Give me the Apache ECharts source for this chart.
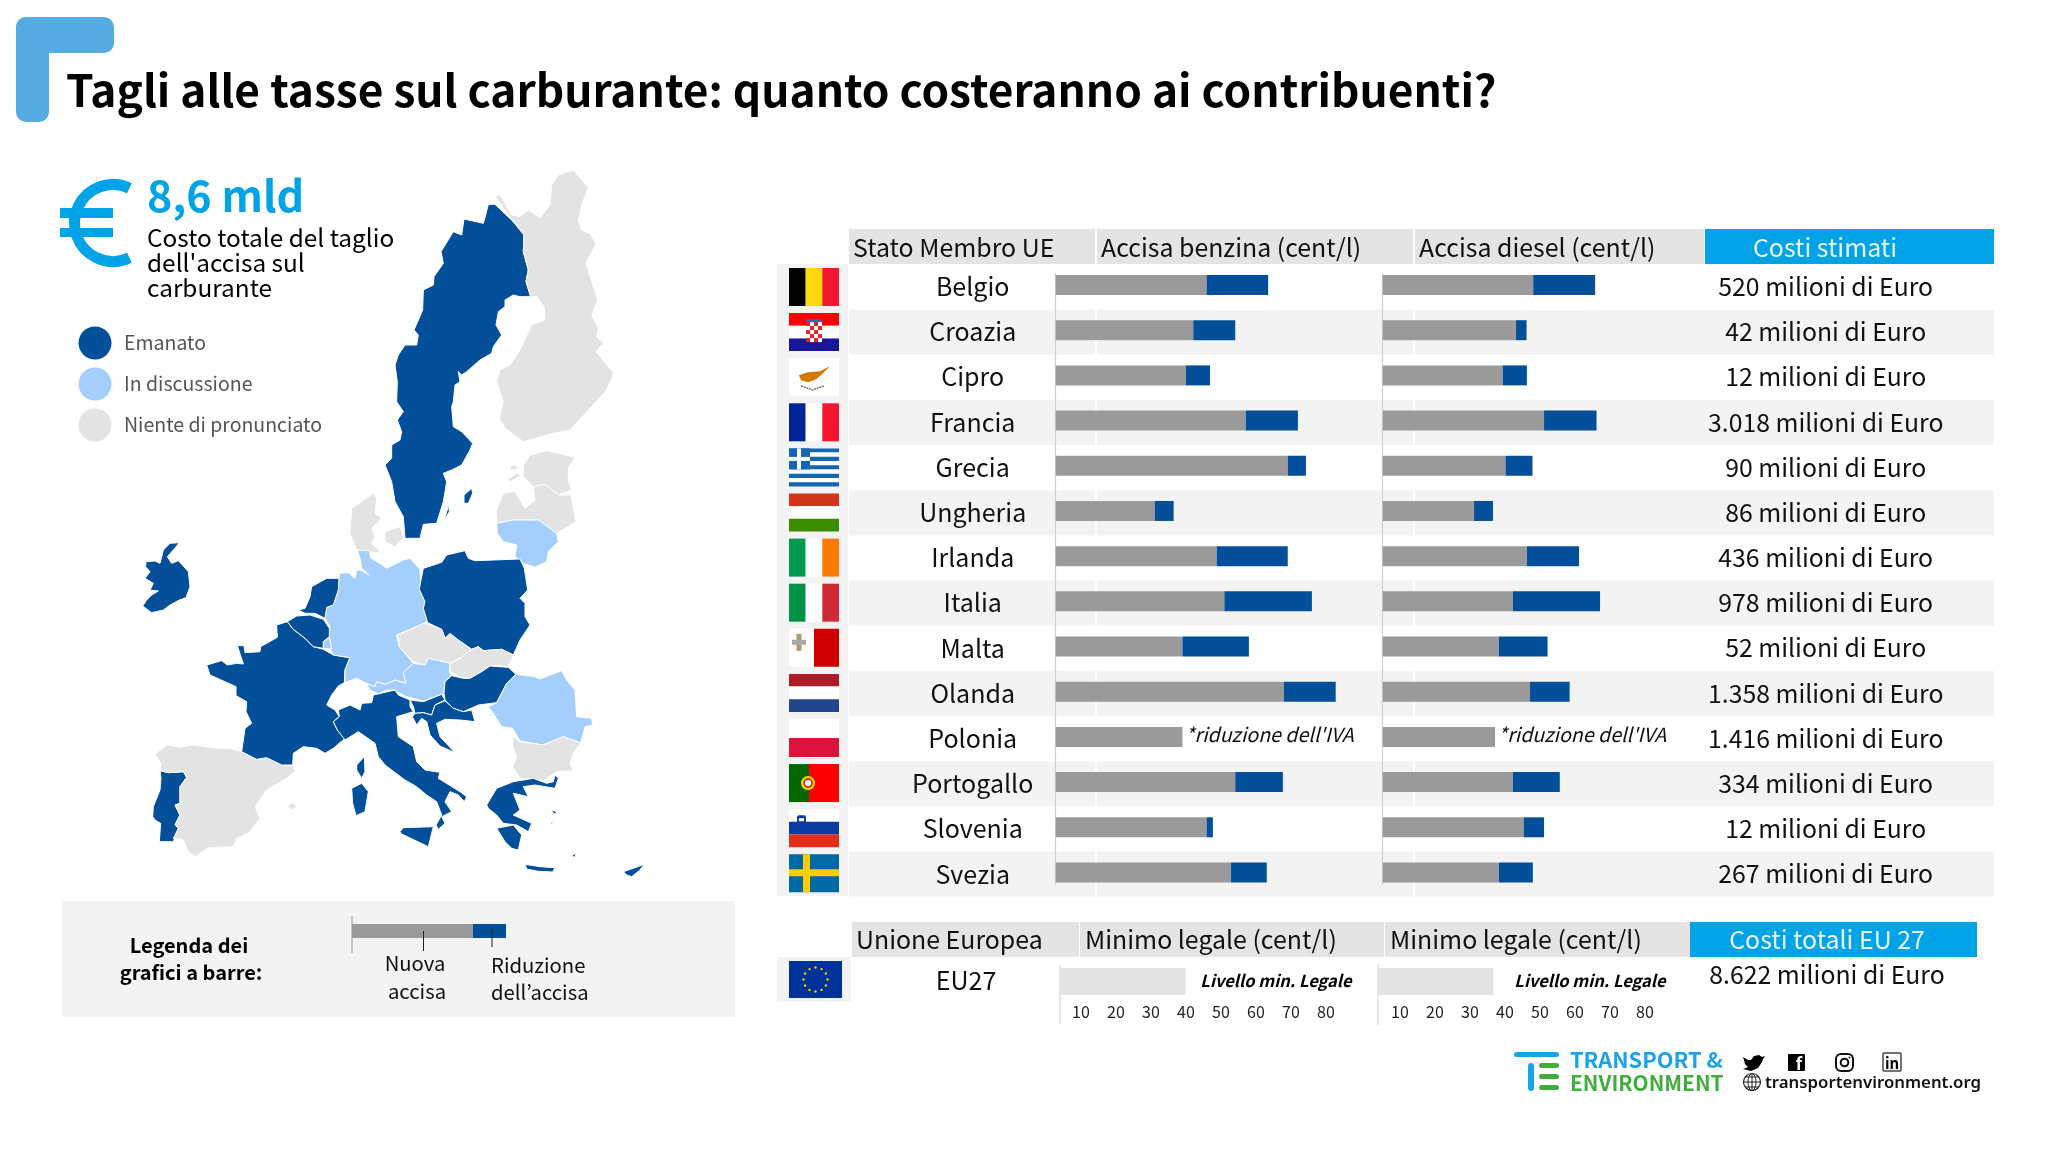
<!DOCTYPE html>
<html><head><meta charset="utf-8">
<style>html,body{margin:0;padding:0;background:#fff}#c{width:2048px;height:1161px}</style>
<script src="https://cdn.jsdelivr.net/npm/echarts@6/dist/echarts.min.js"></script>
</head><body><div id="c"></div>
<script>
const countries = ['Belgio','Croazia','Cipro','Francia','Grecia','Ungheria','Irlanda','Italia','Malta','Olanda','Polonia','Portogallo','Slovenia','Svezia'];
const costs = ['520 milioni di Euro','42 milioni di Euro','12 milioni di Euro','3.018 milioni di Euro','90 milioni di Euro','86 milioni di Euro','436 milioni di Euro','978 milioni di Euro','52 milioni di Euro','1.358 milioni di Euro','1.416 milioni di Euro','334 milioni di Euro','12 milioni di Euro','267 milioni di Euro'];
const petrolNew = [43.1,39.3,37.2,54.3,66.3,28.3,46.0,48.2,36.2,65.2,36.2,51.3,43.1,50.1];
const petrolCut = [17.6,12.0,6.9,14.9,5.2,5.4,20.3,25.0,19.0,15.1,0,13.6,1.8,10.2];
const dieselNew = [43.0,38.1,34.3,46.1,35.1,26.1,41.2,37.2,33.2,42.1,32.1,37.2,40.3,33.2];
const dieselCut = [17.7,3.0,6.9,15.0,7.7,5.4,14.9,24.9,13.9,11.3,0,13.4,5.8,9.7];
const euPetrolMin = [35.9];
const euDieselMin = [33];
const euLabel = ['EU27'];
const euCost = ['8.622 milioni di Euro'];
const enacted = ['Svezia','Irlanda','Portogallo','Francia','Italia','Olanda','Belgio','Polonia','Ungheria','Slovenia','Croazia','Grecia','Cipro'];
const discussed = ['Germania','Lussemburgo','Austria','Romania','Lituania'];
const noPosition = ['Finlandia','Estonia','Lettonia','Danimarca','Cechia','Slovacchia','Bulgaria','Spagna'];
const statusColors = {enacted:'#034F9A',discussed:'#A4CEFB',none:'#E3E3E3'};

// Country outlines (flat x,y lists; two traced sheets)
const z6 = a => { const o=[]; for(let i=0;i<a.length;i+=2) o.push([340+a[i]/3, -(165+a[i+1]/3)]); o.push(o[0]); return o; };
const z7 = a => { const o=[]; for(let i=0;i<a.length;i+=2) o.push([130+a[i]/3, -(530+a[i+1]/3)]); o.push(o[0]); return o; };
const outlines = {
 Svezia:[z6([445,118,465,118,520,170,552,210,550,260,565,315,558,350,572,395,540,395,520,390,495,405,495,425,475,440,468,480,485,510,460,545,455,565,420,585,380,620,365,630,355,620,360,650,345,660,340,710,335,725,340,785,365,800,398,835,390,855,365,900,335,915,310,925,320,950,310,1010,290,1075,250,1078,240,1120,195,1120,190,1055,165,1010,155,950,135,900,155,880,155,840,180,825,185,800,172,765,190,740,170,710,172,650,165,600,175,570,195,540,230,540,235,510,222,495,248,435,250,375,280,360,282,335,310,295,303,260,340,200,365,210,372,162,430,175,437,150]),
  z6([372,990,395,970,398,985,385,1015,372,1015]), z6([312,1068,326,1020,328,1040])],
 Finlandia:[z6([465,95,480,88,515,150,540,155,565,135,600,158,630,120,635,60,655,30,700,15,745,68,725,120,715,165,725,195,750,205,768,237,738,295,773,405,755,450,775,490,770,515,790,535,768,560,822,625,800,675,690,795,640,805,550,830,495,790,478,760,490,710,470,650,480,615,510,600,540,555,575,480,615,465,612,425,590,395,572,395,558,350,565,315,550,260,552,210,520,170])],
 Estonia:[z6([550,900,570,870,620,857,705,877,685,910,685,945,695,975,655,990,615,958,580,965,550,935]), z6([505,905,525,900,535,912,515,915]), z6([500,945,530,925,545,930,510,950])],
 Lettonia:[z6([470,1075,468,1040,490,985,525,980,555,1030,585,1005,580,965,615,958,655,990,692,990,708,1070,650,1105,595,1065,520,1065])],
 Lituania:[z6([470,1075,520,1065,595,1065,650,1105,655,1130,625,1160,620,1190,585,1207,550,1195,525,1175,530,1140,490,1130,472,1105])],
 Danimarca:[z6([35,1030,100,985,110,1000,105,1045,125,1060,95,1090,105,1115,95,1135,125,1165,50,1155,30,1105]), z6([135,1100,180,1085,190,1120,165,1145,135,1130])],
 Irlanda:[z7([48,95,75,93,90,100,100,60,120,40,148,38,130,60,112,80,125,100,145,92,160,108,175,125,180,170,168,203,148,210,120,225,100,240,65,248,38,228,50,210,65,195,85,183,60,180,70,160,45,145,60,125,47,110])],
 Portogallo:[z7([90,722,115,728,160,725,170,742,150,770,150,820,135,825,150,855,135,885,145,895,130,935,88,935,92,880,75,870,68,860,70,830,90,780,93,745])],
 Spagna:[z7([75,672,110,645,150,652,190,645,260,655,300,655,335,665,380,688,410,683,455,705,490,705,495,725,470,745,410,780,375,830,390,865,355,910,320,925,310,950,235,953,195,980,175,965,160,930,130,925,145,895,135,885,150,855,135,825,150,820,150,770,170,742,160,725,115,728,90,722,92,700]), z7([470,828,490,818,500,830,488,840])],
 Francia:[z7([230,405,275,392,292,405,320,400,340,402,322,347,342,347,345,368,390,365,392,350,442,322,440,285,472,275,490,298,525,325,550,350,580,358,610,375,660,383,645,420,643,458,625,468,605,495,590,525,615,540,628,560,610,575,622,600,645,625,610,655,585,670,560,655,520,650,490,670,488,705,455,705,410,683,380,688,335,665,345,595,365,580,348,545,350,515,318,497,318,470,240,435]), z7([680,705,703,680,705,725,695,745,680,720])],
 Italia:[z7([625,540,660,525,690,540,695,520,725,518,730,495,795,480,805,495,840,510,840,530,850,545,800,560,805,620,850,650,860,695,885,720,930,727,925,745,990,785,1010,800,1003,815,985,795,960,785,945,815,965,845,935,860,945,880,925,898,918,885,935,855,920,815,890,795,860,770,825,750,765,705,745,680,735,640,685,605,645,630,622,600,610,575,628,560]), z7([810,905,820,893,910,890,895,950,815,912]), z7([665,775,695,760,715,785,705,845,678,857,668,820])],
 Germania:[z7([682,60,718,62,722,85,750,100,770,115,800,100,820,90,840,85,870,118,872,155,868,178,885,215,880,235,893,275,870,285,800,315,808,350,850,400,820,428,828,460,795,450,765,463,740,455,735,470,710,460,680,445,645,458,645,420,660,383,610,375,600,355,605,358,598,322,600,290,585,265,590,232,610,225,625,180,628,130,655,128,675,145,680,120,690,120,718,135,695,115,690,85])],
 Olanda:[z7([545,170,590,145,627,145,625,180,610,225,590,232,585,265,555,250,525,250,505,240,525,235,540,200])],
 Belgio:[z7([472,275,500,258,540,255,580,268,585,275,598,295,598,320,580,335,580,355,550,350,525,325,490,298])],
 Lussemburgo:[z7([580,335,598,322,605,358,580,355])],
 Polonia:[z7([880,115,935,97,950,75,1005,62,1015,85,1035,92,1170,87,1183,115,1193,180,1170,205,1185,220,1185,260,1200,285,1170,330,1150,375,1115,358,1060,362,1045,350,1025,358,985,330,960,315,945,325,935,298,893,278,880,235,885,215,868,178,872,155])],
 Cechia:[z7([803,315,870,285,880,280,893,283,935,298,945,325,960,310,985,330,1025,358,990,385,960,400,895,385,885,405,850,395,808,350])],
 Slovacchia:[z7([1025,358,1045,350,1060,362,1115,358,1150,375,1135,412,1105,405,1080,408,1055,425,1020,445,985,440,960,425,960,400,990,385])],
 Austria:[z7([710,460,735,470,740,455,765,463,795,450,828,460,820,428,850,400,885,405,895,385,960,400,958,425,965,435,945,455,942,490,880,513,830,500,800,485,795,480,770,480,745,492,720,480])],
 Ungheria:[z7([965,437,1000,445,1020,445,1055,425,1080,408,1135,412,1158,433,1130,460,1100,518,1045,525,1000,545,970,535,945,510,942,490,945,455])],
 Slovenia:[z7([840,510,880,515,935,493,945,510,915,525,905,555,880,548,855,550,850,530])],
 Croazia:[z7([945,512,970,535,1000,545,1025,540,1035,575,990,570,945,568,920,580,930,620,975,668,930,648,900,615,890,575,875,565,860,585,847,560,855,550,880,548,905,555,915,525])],
 Romania:[z7([1075,530,1100,518,1130,460,1158,433,1215,440,1230,447,1295,422,1310,450,1335,480,1340,560,1385,565,1388,585,1365,590,1352,638,1300,620,1240,645,1170,633,1148,595,1115,590,1090,550])],
 Bulgaria:[z7([1148,618,1170,635,1240,645,1300,620,1352,640,1330,670,1320,700,1330,722,1280,725,1240,752,1170,745,1148,710,1160,680,1148,650])],
 Grecia:[z7([1070,825,1100,775,1150,755,1210,745,1250,760,1270,755,1275,735,1285,745,1275,775,1215,765,1180,770,1195,800,1150,790,1170,840,1150,855,1205,880,1195,905,1160,885,1120,880,1100,855,1075,835]), z7([1100,895,1150,885,1175,915,1165,960,1145,955,1125,935]), z7([1185,1003,1230,1010,1275,1013,1268,1026,1225,1024,1190,1017]), z7([1325,978,1337,968,1335,982]), z7([1265,840,1280,845,1278,852,1268,848]), z7([1262,878,1268,875,1268,888])],
 Cipro:[z7([1480,1025,1510,1015,1542,1003,1530,1020,1505,1040,1490,1035])]
};
const geo = {type:'FeatureCollection',features:Object.keys(outlines).map(n=>({type:'Feature',properties:{name:n},geometry:{type:'MultiPolygon',coordinates:outlines[n].map(r=>[r])}}))};
echarts.registerMap('eu', geo);

const F = '"Noto Sans CJK JP"';
const GREY='#9A9A9A', BLUE='#034F9A', SKY='#00A3E6', BAND='#F3F3F3', HEAD='#E4E4E4';
const g = [];
const R=(x,y,w,h,fill,r)=>g.push({type:'rect',silent:true,shape:{x,y,width:w,height:h,r:r||0},style:{fill}});
const L=(x1,y1,x2,y2,stroke,w)=>g.push({type:'line',silent:true,shape:{x1,y1,x2,y2},style:{stroke,lineWidth:w||1}});
const C=(cx,cy,r,fill,stroke,w)=>g.push({type:'circle',silent:true,shape:{cx,cy,r},style:{fill:fill||'none',stroke:stroke||'none',lineWidth:w||1}});
const P=(pts,fill)=>g.push({type:'polygon',silent:true,shape:{points:pts},style:{fill}});
const T=(x,y,text,size,o={})=>g.push({type:'text',silent:true,style:{x,y,text,fill:o.fill||'#111',align:o.align||'left',verticalAlign:'middle',font:`${o.style||'normal'} ${o.weight||400} ${size}px ${o.family||F}`}});

// logo tile and title
R(16,17,33,105,'#54ACE3',10); R(16,17,98,36,'#54ACE3',10);
T(66,90.5,'Tagli alle tasse sul carburante: quanto costeranno ai contribuenti?',44.25,{weight:700,fill:'#000'});
// euro + headline
g.push({type:'arc',silent:true,shape:{cx:113,cy:223,r:38.5,startAngle:-1.13,endAngle:1.13,clockwise:false},style:{fill:'none',stroke:SKY,lineWidth:11}});
R(60,208,53,10,SKY); R(60,228,53,9,SKY);
T(147,196,'8,6 mld',43,{weight:700,fill:SKY});
['Costo totale del taglio',"dell'accisa sul",'carburante'].forEach((s,i)=>T(147,238+25*i,s,24.4,{fill:'#000'}));
// map legend
[[343,statusColors.enacted,'Emanato'],[384,statusColors.discussed,'In discussione'],[425,statusColors.none,'Niente di pronunciato']].forEach(a=>{C(95,a[0],16.5,a[1]);T(124,a[0],a[2],19.5,{fill:'#555'});});
// bar legend panel
R(62,901,673,116,BAND);
T(189,945,'Legenda dei',20,{weight:700,align:'center',fill:'#000'});
T(191,972,'grafici a barre:',20,{weight:700,align:'center',fill:'#000'});
R(352,924,121,14,GREY); R(473,924,33,14,BLUE);
L(352,916,352,953,'#999',1); L(423.5,931,423.5,951,'#222',1); L(492,928,492,947,'#222',1);
T(415,963.5,'Nuova',20.3,{align:'center'}); T(417,991.5,'accisa',20.3,{align:'center'});
T(491,965.5,'Riduzione',20.3); T(491,992.5,'dell’accisa',20.3);
// table header
R(849,229,246,35,HEAD); R(1097,229,316,35,HEAD); R(1415,229,289,35,HEAD); R(1705,229,289,35,SKY);
T(853,247.5,'Stato Membro UE',24.9); T(1101,247.5,'Accisa benzina (cent/l)',24.9); T(1419,247.5,'Accisa diesel (cent/l)',24.9);
T(1825,247.5,'Costi stimati',24.9,{fill:'#EAF6FC',align:'center'});
// row bands
R(777,264,71,632,BAND);
const rowH=45.15;
countries.forEach((c,i)=>{ if(i%2) R(849,264.5+rowH*i,1145,rowH,BAND); });
L(1096,264,1096,896,'#fff',2); L(1414,264,1414,896,'#fff',2);
L(1055.5,273,1055.5,885,'#D0D0D0',1.2); L(1382.5,273,1382.5,885,'#D0D0D0',1.2);

// flags
const FW=50,FH=38; const fy=i=>268+45.1*i;
const vtri=(i,a,b,c)=>{const y=fy(i);R(789,y,FW/3,FH,a);R(789+FW/3,y,FW/3,FH,b);R(789+2*FW/3,y,FW/3,FH,c);};
const htri=(i,a,b,c)=>{const y=fy(i);R(789,y,FW,FH/3,a);R(789,y+FH/3,FW,FH/3,b);R(789,y+2*FH/3,FW,FH/3,c);};
vtri(0,'#000','#FFD90C','#F31830');
htri(1,'#FF0000','#fff','#171796');
{const y=fy(1);for(let a=0;a<5;a++)for(let b=0;b<4;b++){R(806+b*4,y+9+a*4,4,4,(a+b)%2?'#fff':'#E8202A');}R(806,y+6,16,3,'#2A6FB0');}
{const y=fy(2);R(789,y,FW,FH,'#fff');P([[799,y+17],[808,y+14],[820,y+13],[830,y+8],[822,y+16],[816,y+21],[808,y+24],[801,y+22]],'#D57800');
 for(let k=0;k<9;k++){R(801+k*2.6,y+28+Math.abs(k-4)*-0.9+3,2,1.5,'#6E7B56');}}
vtri(3,'#002395','#fff','#F5152F');
{const y=fy(4);for(let k=0;k<9;k++)R(789,y+k*FH/9,FW,FH/9,k%2?'#fff':'#1465B2');R(789,y,21,21,'#1465B2');R(797,y,4,21,'#fff');R(789,y+8.5,21,4,'#fff');}
htri(5,'#D3351A','#fff','#3C8C00');
vtri(6,'#009B4E','#fff','#FF7900');
vtri(7,'#009246','#fff','#CE2B37');
{const y=fy(8);R(789,y,25,FH,'#fff');R(814,y,25,FH,'#CF0000');R(796.5,y+5,5,17,'#B19A6C');R(792,y+11,14,5,'#A9A9A9');}
htri(9,'#AE1C28','#fff','#21468B');
{const y=fy(10);R(789,y,FW,19,'#fff');R(789,y+19,FW,19,'#DC143C');}
{const y=fy(11);R(789,y,20,FH,'#006600');R(809,y,30,FH,'#FF0000');C(808,y+19,7,'#F3E000');C(808,y+19,4,'#fff','#D00',1.5);}
{const y=fy(12);htri(12,'#fff','#0B3AA0','#E22D1A');R(797,y+6,9,10,'#0B3AA0',2);R(799,y+9,5,3,'#fff');}
{const y=fy(13);R(789,y,FW,FH,'#006AA7');R(803,y,7,FH,'#FECC00');R(789,y+15,FW,7,'#FECC00');}
// EU flag
R(777,957,74,45,BAND); R(789,961,53,37,'#003399');
for(let k=0;k<12;k++){const a=k*Math.PI/6;C(815.5+12*Math.cos(a),979.5+12*Math.sin(a),1.2,'#FFCC00');}
// EU header
R(852,922,227,35,HEAD); R(1080,922,304,35,HEAD); R(1385,922,305,35,HEAD); R(1690,922,287,35,SKY);
T(856,940,'Unione Europea',24.9); T(1085,940,'Minimo legale (cent/l)',24.9); T(1390,940,'Minimo legale (cent/l)',24.9);
T(1827,940,'Costi totali EU 27',24.9,{fill:'#EAF6FC',align:'center'});
L(1060,965,1060,1024,'#D0D0D0',1); L(1378,964,1378,1025,'#D0D0D0',1);
T(1276,980.5,'Livello min. Legale',16.5,{weight:700,style:'italic',align:'center',fill:'#000'});
T(1590,980.5,'Livello min. Legale',16.5,{weight:700,style:'italic',align:'center',fill:'#000'});
// T&E logo
R(1514,1052,45,5,'#1AA3E8',2.5); R(1528,1063,6,28,'#1AA3E8',3);
[1063,1074,1085].forEach(y=>R(1539,y,20,5,'#3FAE3A',2.5));
T(1570,1060,'TRANSPORT &',21.8,{weight:700,fill:'#1AA3E8'});
T(1570,1083,'ENVIRONMENT',20.9,{weight:700,fill:'#3FAE3A'});
// social icons
P([[1743,1057],[1748,1060],[1751,1060],[1754,1056],[1759,1055],[1762,1057],[1765,1056],[1763,1059],[1762,1062],[1758,1068],[1751,1071],[1743,1069],[1748,1067],[1745,1064],[1744,1060]],'#000');
R(1788,1054,17,17,'#000',1); T(1799,1064,'f',17,{weight:700,fill:'#fff',align:'center'});
g.push({type:'rect',silent:true,shape:{x:1836,y:1054,width:17,height:17,r:5},style:{fill:'none',stroke:'#111',lineWidth:2}});
C(1844.5,1062.5,3.8,null,'#111',2); C(1849.5,1057.5,1,'#111');
g.push({type:'rect',silent:true,shape:{x:1883,y:1053,width:18,height:18,r:1},style:{fill:'none',stroke:'#444',lineWidth:1.5}});
T(1892,1063,'in',15,{weight:700,fill:'#000',align:'center'});
C(1752,1082,8.5,null,'#222',1.2); L(1743.5,1082,1760.5,1082,'#222',1); L(1752,1073.5,1752,1090.5,'#222',1);
g.push({type:'ellipse',silent:true,shape:{cx:1752,cy:1082,rx:4,ry:8.5},style:{fill:'none',stroke:'#222',lineWidth:1}});
L(1745,1077,1759,1077,'#222',1); L(1745,1087,1759,1087,'#222',1);
T(1765,1083,'transportenvironment.org',16.8,{weight:600,fill:'#111',family:'"Noto Sans"'});

const statusOf = n => enacted.includes(n)?statusColors.enacted:discussed.includes(n)?statusColors.discussed:statusColors.none;
const mapData = [...enacted,...discussed,...noPosition].map(n=>({name:n,value:1,itemStyle:{areaColor:statusOf(n)}}));

const grids=[
 {left:1055.7,top:262.4,width:280,height:632.7},
 {left:1382.7,top:262.4,width:280,height:632.7},
 {left:1060,top:968,width:280,height:27},
 {left:1378,top:968,width:280,height:27}
];
const hiddenX=i=>({type:'value',gridIndex:i,min:0,max:80,show:false,splitLine:{show:false}});
const tickX=(i,pad)=>({type:'value',gridIndex:i,min:0,max:80,interval:10,axisLine:{show:false},axisTick:{show:false},splitLine:{show:false},
  axisLabel:{fontFamily:F,fontSize:16,color:'#222',margin:9,padding:[0,pad,0,0],showMinLabel:false,formatter:v=>v?String(v):''}});
const catY=(i,data,o)=>Object.assign({type:'category',gridIndex:i,inverse:true,data,axisLine:{show:false},axisTick:{show:false},splitLine:{show:false}},o);
// label shift: vertical anchor + a line box whose half height is the wanted offset from the band centre
const lab=(margin,size,va,lh)=>({interval:0,fontFamily:F,fontSize:size,color:'#111',margin,align:'center',verticalAlign:va,lineHeight:lh});
const poloniaLabel=(arr)=>arr.map((v,i)=>i===10?{value:v,label:{show:true,position:'right',distance:3,offset:[0,-2],formatter:"*riduzione dell'IVA",fontFamily:F,fontStyle:'italic',fontSize:19.6,color:'#111'}}:v);
const bar=(name,data,color,x,stack)=>({type:'bar',name,data,xAxisIndex:x,yAxisIndex:x,stack,barWidth:20,silent:true,animation:false,itemStyle:{color}});

const chart=echarts.init(document.getElementById('c'),null,{renderer:'canvas',width:2048,height:1161});
chart.setOption({
 animation:false,backgroundColor:'#fff',
 grid:grids,
 xAxis:[hiddenX(0),hiddenX(1),tickX(2,28),tickX(3,26)],
 yAxis:[
  catY(0,countries,{axisLabel:lab(83,25,'top',3)}),
  catY(1,costs,{position:'right',axisLabel:lab(163,24.8,'top',3)}),
  catY(2,euLabel,{axisLabel:lab(94,25,'bottom',3)}),
  catY(3,euCost,{position:'right',axisLabel:lab(169,24.8,'bottom',14)})
 ],
 graphic:{elements:g},
 series:[
  {type:'map',map:'eu',aspectScale:1,silent:true,left:140,top:165,width:520,height:725,
   boundingCoords:[[140,-165],[660,-890]],roam:false,label:{show:false},emphasis:{disabled:true},select:{disabled:true},
   itemStyle:{borderColor:'#fff',borderWidth:1},data:mapData},
  bar('Nuova accisa benzina',poloniaLabel(petrolNew),GREY,0,'p'),
  bar('Riduzione benzina',petrolCut,BLUE,0,'p'),
  bar('Nuova accisa diesel',poloniaLabel(dieselNew),GREY,1,'d'),
  bar('Riduzione diesel',dieselCut,BLUE,1,'d'),
  {type:'bar',name:'Minimo benzina',data:euPetrolMin,xAxisIndex:2,yAxisIndex:2,barWidth:27,silent:true,itemStyle:{color:HEAD}},
  {type:'bar',name:'Minimo diesel',data:euDieselMin,xAxisIndex:3,yAxisIndex:3,barWidth:27,silent:true,itemStyle:{color:HEAD}}
 ]
});
</script></body></html>
